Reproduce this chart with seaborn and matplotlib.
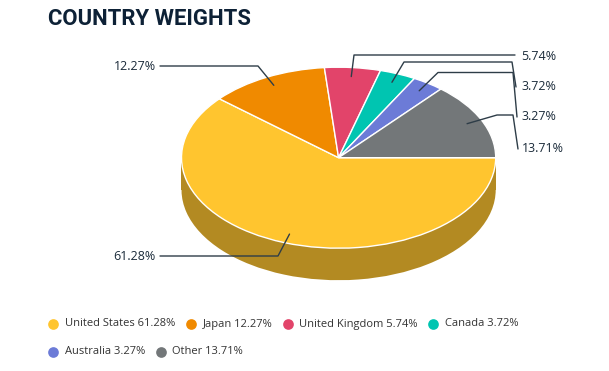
import numpy as np
import matplotlib
matplotlib.use("Agg")
import matplotlib.pyplot as plt
import seaborn as sns

# DATA
countries = ["United States", "Japan", "United Kingdom", "Canada", "Australia", "Other"]
weights = [61.28, 12.27, 5.74, 3.72, 3.27, 13.71]
top_colors = ["#FFC52F", "#F08A00", "#E2446A", "#00C5B1", "#6C7BD7", "#737779"]
side_colors = ["#B38A22", "#A86100", "#9E3049", "#008A7C", "#4C5697", "#515355"]

sns.set_theme(style="white")
plt.rcParams["font.family"] = ["Open Sans", "DejaVu Sans"]

W, H = 609, 371
fig = plt.figure(figsize=(W / 100, H / 100), dpi=100)

# pie geometry (pixels)
cx, cy = 338.6, 157.7
rx, ry = 157.1, 90.5
depth = 32

# squashed pie: one data unit = rx px horizontally, ry px vertically
ax = fig.add_axes([0, 0, 1, 1])
ax.pie(weights, colors=side_colors, startangle=0, counterclock=False,
       center=(0, -depth / ry), wedgeprops=dict(linewidth=0))
ax.fill_between([-1, 1], -depth / ry, 0, color=side_colors[0], lw=0)
wedges, _ = ax.pie(weights, colors=top_colors, startangle=0, counterclock=False,
                   wedgeprops=dict(edgecolor="white", linewidth=1))
ax.set_aspect("auto")
ax.set_xlim(-cx / rx, (W - cx) / rx)
ax.set_ylim(-(H - cy) / ry, cy / ry)
ax.axis("off")

# overlay in pixel coordinates for labels / legend
ov = fig.add_axes([0, 0, 1, 1], facecolor="none")
ov.set_xlim(0, W)
ov.set_ylim(H, 0)
ov.axis("off")

ov.text(48, 19, "COUNTRY WEIGHTS", fontsize=15.9, fontweight="bold",
        family="Roboto", va="center", ha="left", color="#0D2136")

# connector layout: bend point, extra points, label position, alignment
bends = [(278, 256), (258, 66), (354, 55), (404, 62), (438, 72.5), (497, 115)]
extras = [[(160, 256)], [(160, 66)], [(515, 55)],
          [(512, 62), (516, 87)], [(513, 72.5), (517, 117)], [(513, 115), (518, 149)]]
label_xy = [(156, 256), (156, 66), (521, 56), (521, 87), (521, 117), (522, 149)]
label_ha = ["right", "right", "left", "left", "left", "left"]

line_col = "#2E3D48"
for w, val, b, ext, lxy, ha in zip(wedges, weights, bends, extras, label_xy, label_ha):
    mid = np.deg2rad((w.theta1 + w.theta2) / 2)
    anchor = (cx + 0.9 * rx * np.cos(mid), cy - 0.9 * ry * np.sin(mid))
    pts = [anchor, b] + ext
    ov.plot([p[0] for p in pts], [p[1] for p in pts], color=line_col, lw=1)
    ov.text(lxy[0], lxy[1], f"{val:.2f}%", fontsize=9, color="#1B2B3A",
            ha=ha, va="center")

# legend, flowed like the original
fig.canvas.draw()
renderer = fig.canvas.get_renderer()
x, y = 53.3, 324
row_gap = 27.7
for name, val, col in zip(countries, weights, top_colors):
    t = ov.text(x + 11.7, y, f"{name} {val:.2f}%", fontsize=8, color="#333333",
                ha="left", va="center")
    bb = t.get_window_extent(renderer)
    if bb.x1 > 560:
        x, y = 53.3, y + row_gap
        t.set_position((x + 11.7, y))
        bb = t.get_window_extent(renderer)
    ov.plot(x, y, marker="o", markersize=7.7, color=col, markeredgewidth=0)
    x = bb.x1 + 15.5

fig.savefig("out.png", dpi=100)
